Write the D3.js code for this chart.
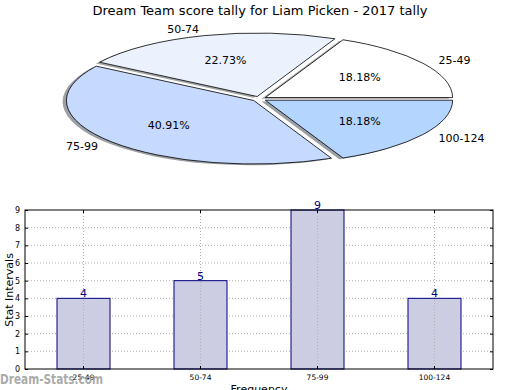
<!DOCTYPE html>
<html><head><meta charset="utf-8">
<script src="https://cdn.jsdelivr.net/npm/d3@7"></script>
<style>body{margin:0;background:#fff}svg{display:block;font-family:"DejaVu Sans",sans-serif}</style>
</head><body><svg id="c" width="520" height="390"></svg>
<script>
const title = "Dream Team score tally for Liam Picken - 2017 tally";
const categories = ["25-49", "50-74", "75-99", "100-124"];
const counts = [4, 5, 9, 4];
const pieColors = ["#ffffff", "#ebf2fe", "#c6d9fe", "#b4d5fe"];
const yTicks = [0,1,2,3,4,5,6,7,8,9];
const yLabel = "Stat Intervals";
const xLabel = "Frequency";
const watermark = "Dream-Stats.com";

const svg = d3.select("#c");
svg.append("rect").attr("width",520).attr("height",390).attr("fill","#fff");

svg.append("text").attr("x",260).attr("y",15).attr("text-anchor","middle")
  .attr("font-size",13).attr("fill","#000").text(title);

// Pie (elliptical)
const cx = 259.2, cy = 98.9, rx = 187.3, ry = 63.5, explode = 0.0387;
const pie = d3.pie().sort(null).value(d=>d).startAngle(Math.PI/2).endAngle(Math.PI/2 - 2*Math.PI);
const arcs = pie(counts);
const arc = d3.arc().innerRadius(0).outerRadius(1);
const total = d3.sum(counts);
const pg = svg.append("g");
function off(a){ const m=(a.startAngle+a.endAngle)/2; return [explode*Math.sin(m), -explode*Math.cos(m), m]; }
// shadows
arcs.forEach((a,i)=>{
  const [ox,oy] = off(a);
  const c = d3.rgb(pieColors[i]);
  pg.append("path").attr("d",arc(a))
    .attr("transform",`translate(${cx},${cy}) scale(${rx},${ry}) translate(${ox-0.02},${oy+0.02})`)
    .attr("fill",d3.rgb(c.r*0.3,c.g*0.3,c.b*0.3)).attr("fill-opacity",0.5);
});
arcs.forEach((a,i)=>{
  const [ox,oy] = off(a);
  pg.append("path").attr("d",arc(a))
    .attr("transform",`translate(${cx},${cy}) scale(${rx},${ry}) translate(${ox},${oy})`)
    .attr("fill",pieColors[i]).attr("stroke","#000").attr("stroke-width",0.8)
    .attr("vector-effect","non-scaling-stroke");
});
arcs.forEach((a,i)=>{
  const [ox,oy,m] = off(a);
  const lx = cx + rx*(ox + 1.1*Math.sin(m)), ly = cy + ry*(oy - 1.1*Math.cos(m));
  pg.append("text").attr("x",lx).attr("y",ly).attr("dy","0.35em")
    .attr("text-anchor", Math.sin(m)>0 ? "start":"end").attr("font-size",11).text(categories[i]);
  const px = cx + rx*(ox + 0.6*Math.sin(m)), py = cy + ry*(oy - 0.6*Math.cos(m));
  pg.append("text").attr("x",px).attr("y",py).attr("dy","0.35em")
    .attr("text-anchor","middle").attr("font-size",11)
    .text((a.value/total*100).toFixed(2)+"%");
});

// Bar chart
const L=25, R=493, T=210, B=369;
const x = d3.scaleBand().domain(categories).range([L,R]).paddingInner(0.547).paddingOuter(0.2735);
const y = d3.scaleLinear().domain([0,9]).range([B,T]);
const bg = svg.append("g");
bg.selectAll(".gy").data(yTicks.slice(1,-1)).join("line")
  .attr("x1",L).attr("x2",R).attr("y1",d=>y(d)).attr("y2",d=>y(d))
  .attr("stroke","#b0b0b0").attr("stroke-width",1).attr("stroke-dasharray","1,2");
bg.selectAll(".bar").data(counts).join("rect")
  .attr("x",(d,i)=>x(categories[i])).attr("width",x.bandwidth())
  .attr("y",d=>y(d)).attr("height",d=>B-y(d))
  .attr("fill","#cccce3").attr("stroke","#000080").attr("stroke-width",1);
bg.selectAll(".gx").data(categories).join("line")
  .attr("x1",d=>x(d)+x.bandwidth()/2).attr("x2",d=>x(d)+x.bandwidth()/2)
  .attr("y1",T).attr("y2",B)
  .attr("stroke","#b0b0b0").attr("stroke-width",1).attr("stroke-dasharray","1,2");
bg.selectAll(".vl").data(counts).join("text")
  .attr("x",(d,i)=>x(categories[i])+x.bandwidth()/2).attr("y",d=>y(d)-1)
  .attr("text-anchor","middle").attr("font-size",11).attr("fill","#000080").text(d=>d);
bg.append("rect").attr("x",L).attr("y",T).attr("width",R-L).attr("height",B-T)
  .attr("fill","none").attr("stroke","#000").attr("stroke-width",1);
const ya = d3.axisLeft(y).tickValues(yTicks).tickSize(-3).tickPadding(5);
const gya = bg.append("g").attr("transform",`translate(${L},0)`).call(ya);
gya.select(".domain").remove();
gya.selectAll("text").attr("font-size",8).attr("font-family","DejaVu Sans");
const yr = d3.axisRight(y).tickValues(yTicks).tickSize(-3).tickFormat("");
const gyr = bg.append("g").attr("transform",`translate(${R},0)`).call(yr);
gyr.select(".domain").remove();
const xa = d3.axisBottom(x).tickSize(-3).tickPadding(6);
const gxa = bg.append("g").attr("transform",`translate(0,${B})`).call(xa);
gxa.select(".domain").remove();
gxa.selectAll("text").attr("font-size",7.5).attr("font-family","DejaVu Sans");
const xt = d3.axisTop(x).tickSize(-3).tickFormat("");
const gxt = bg.append("g").attr("transform",`translate(0,${T})`).call(xt);
gxt.select(".domain").remove();

svg.append("text").attr("transform","translate(13,290) rotate(-90)")
  .attr("text-anchor","middle").attr("font-size",11).text(yLabel);
svg.append("text").attr("x",259).attr("y",393).attr("text-anchor","middle")
  .attr("font-size",11).text(xLabel);

svg.append("text").attr("x",0).attr("y",384).attr("font-size",14).attr("font-weight","bold")
  .attr("font-family","DejaVu Sans Condensed, DejaVu Sans").attr("font-stretch","condensed")
  .attr("textLength",103).attr("lengthAdjust","spacingAndGlyphs")
  .attr("fill","#a0a0a0").attr("fill-opacity",0.9).text(watermark);
</script></body></html>
